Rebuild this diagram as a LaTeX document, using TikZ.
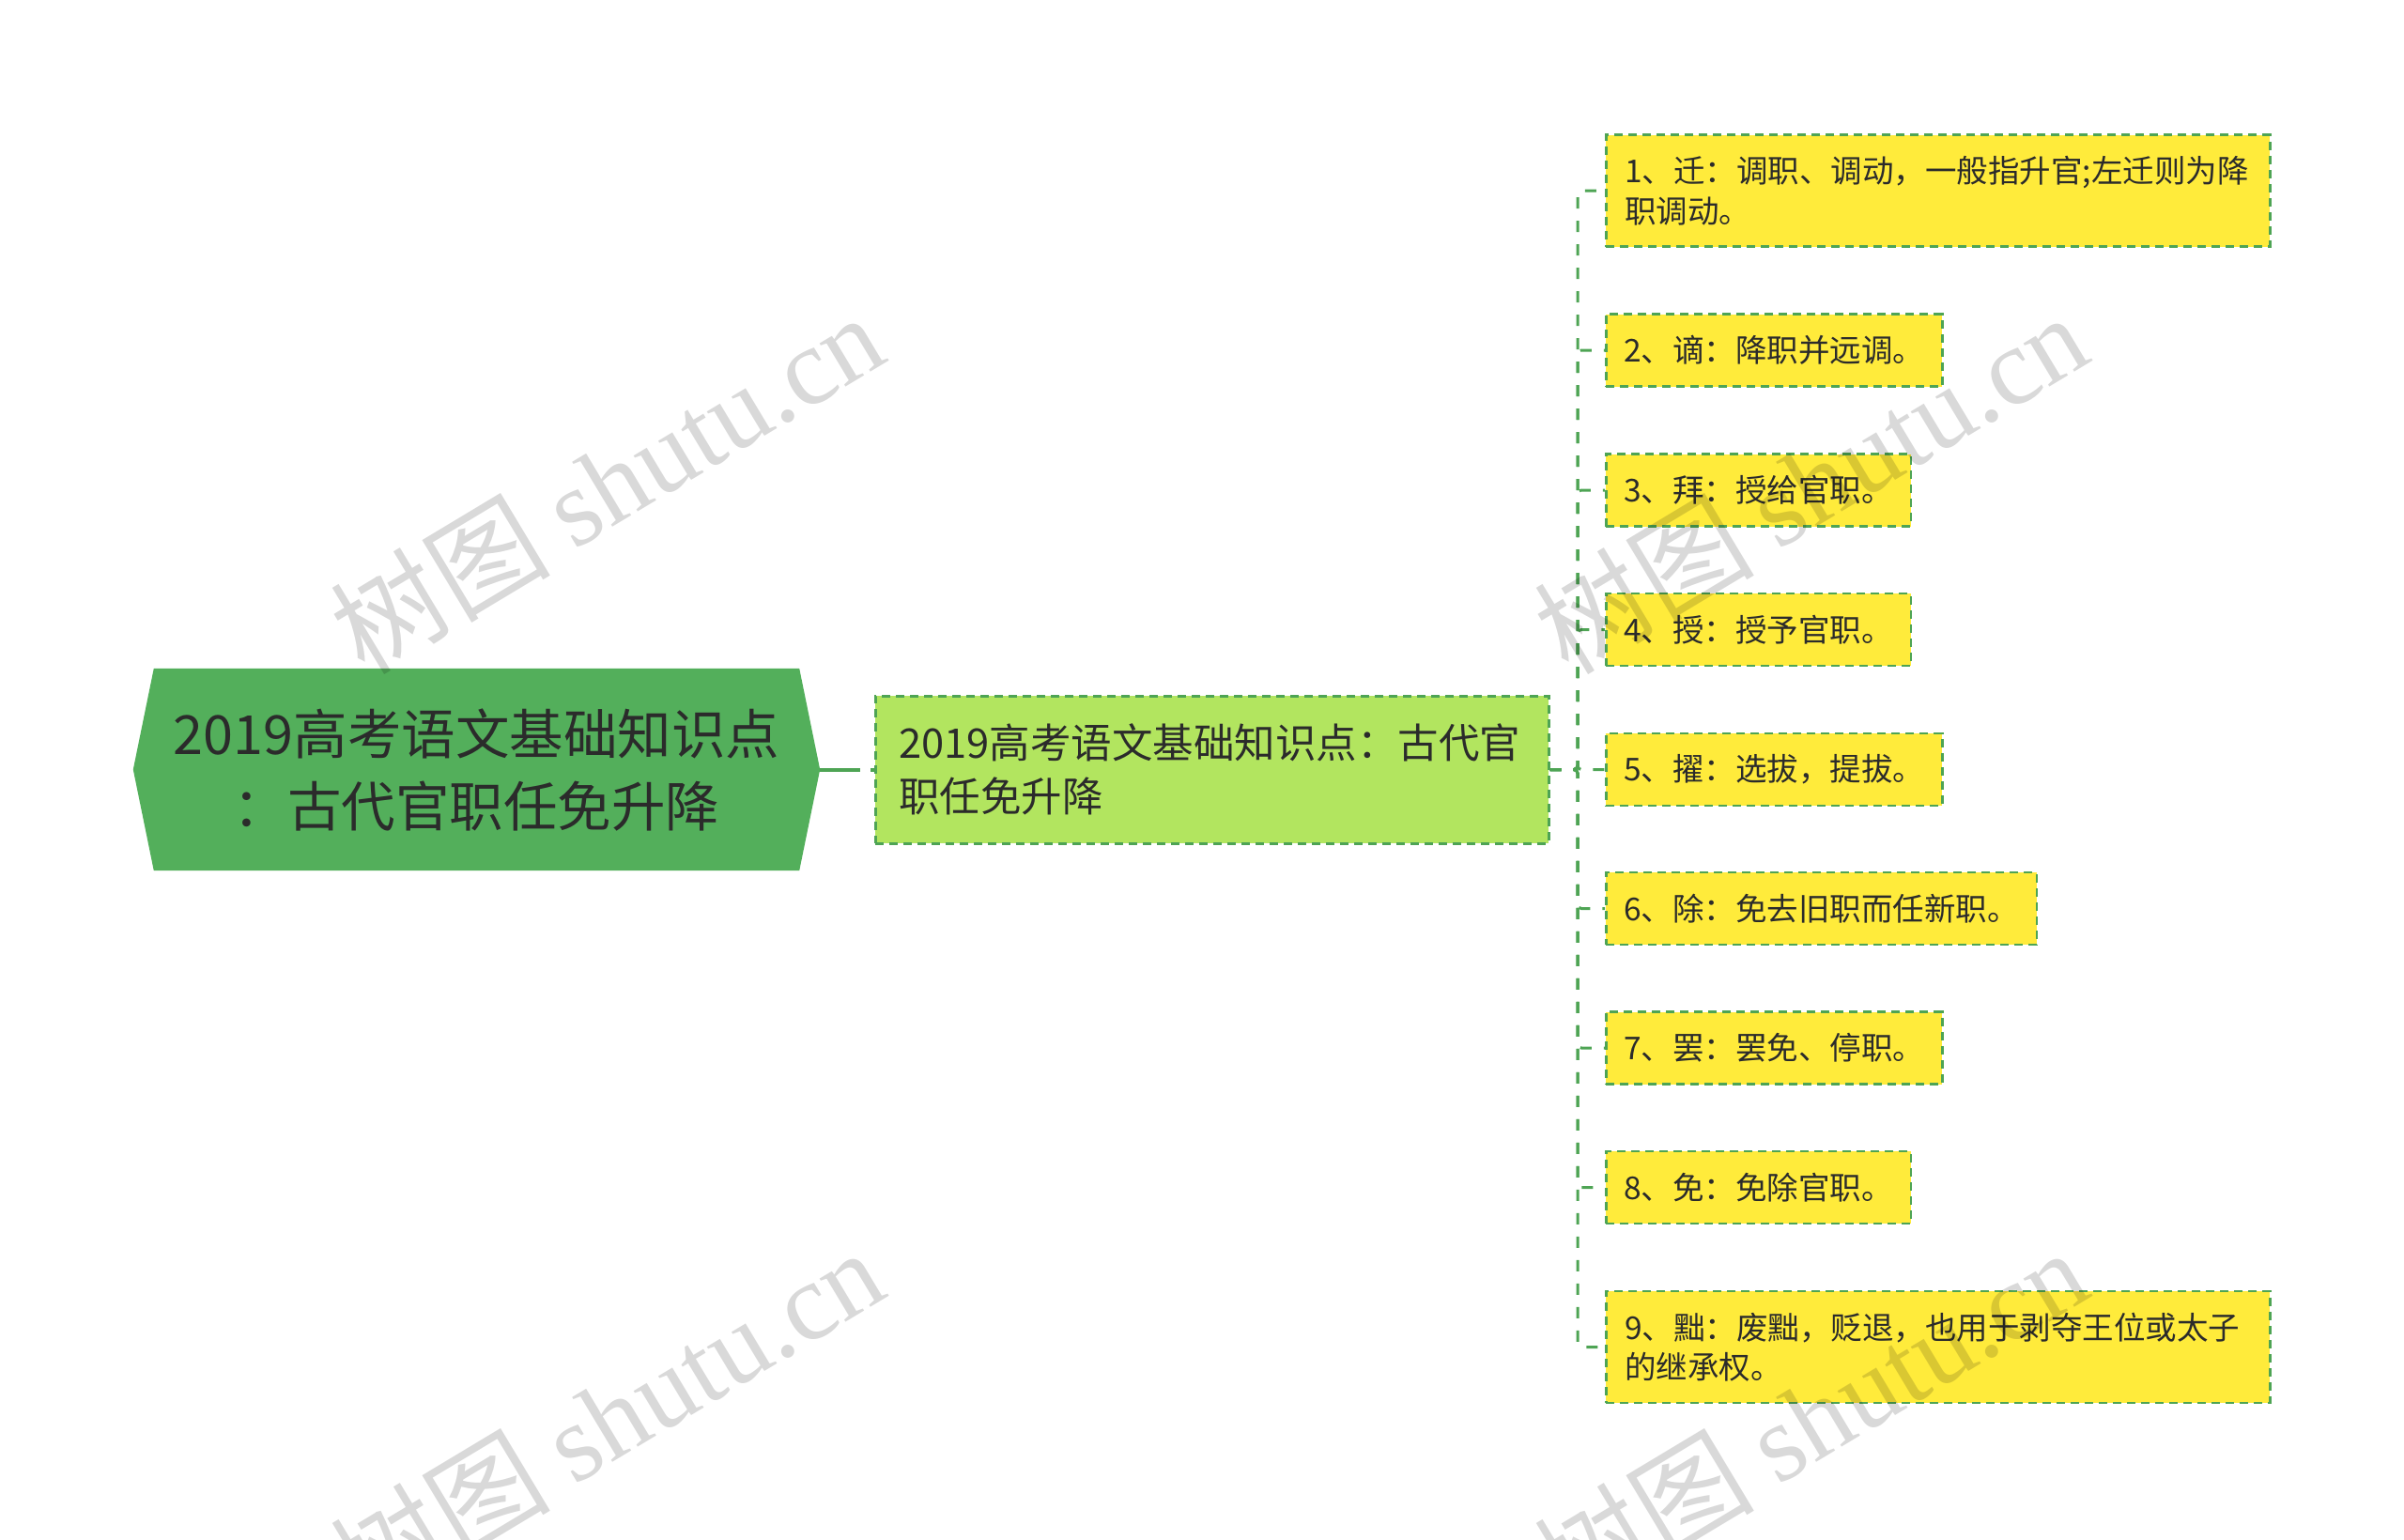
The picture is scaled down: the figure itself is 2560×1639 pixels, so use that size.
\documentclass[tikz,border=0pt]{standalone}
\usepackage{fontspec}
\setmainfont{Noto Sans CJK SC}
\newfontfamily\wmserif{Liberation Serif}
\newfontfamily\wmcjk{Noto Sans CJK SC}
\usetikzlibrary{backgrounds}
\definecolor{rootgreen}{HTML}{53AF5B}
\definecolor{midfill}{HTML}{B2E55F}
\definecolor{leaffill}{HTML}{FFEB3B}
\definecolor{linegreen}{HTML}{4EA454}
\definecolor{txt}{HTML}{2B2B2B}
\tikzset{
  rootbox/.style={font=\fontsize{57.5}{77}\selectfont, text=txt, align=center,
    minimum width=687pt, minimum height=215pt, inner sep=0pt},
  midbox/.style={draw=linegreen, fill=midfill, line width=3pt, dash pattern=on 9pt off 6pt,
    text=txt, text width=667pt, inner xsep=25pt, inner ysep=0pt, minimum height=157pt,
    align=left, font=\fontsize{43.5}{57}\selectfont},
  leafbox/.style={draw=linegreen, fill=leaffill, line width=2.5pt, dash pattern=on 9pt off 6pt,
    text=txt, inner xsep=19pt, inner ysep=0pt, minimum height=77pt, align=left, anchor=west,
    font=\fontsize{33.5}{42.5}\selectfont},
  leafwide/.style={leafbox, text width=667pt, inner xsep=20pt, minimum height=119pt},
  conn/.style={draw=linegreen, line width=3pt, dash pattern=on 12pt off 13pt, rounded corners=4pt},
  rootconn/.style={draw=linegreen, line width=4pt, dash pattern=on 43pt off 11pt on 20pt off 0pt},
  wm/.style={font=\fontsize{117}{117}\selectfont, text=black, text opacity=0.15, inner sep=0pt}
}
\begin{document}
\begin{tikzpicture}[x=1pt,y=-1pt]
\useasboundingbox (0,0) rectangle (2560,1639);

% root
\node[rootbox] (root) at (507.5,819.5) {2019高考语文基础知识点\\：古代官职任免升降};
\begin{pgfonlayer}{background}
\fill[rootgreen] ([xshift=-22pt]root.west) -- (root.north west) -- (root.north east)
  -- ([xshift=22pt]root.east) -- (root.south east) -- (root.south west) -- cycle;
\end{pgfonlayer}

% second level
\node[midbox] (mid) at (1290.5,819.5) {2019高考语文基础知识点：古代官\\职任免升降};

\draw[rootconn] ([xshift=22pt]root.east) -- (mid.west);

% leaves
\node[leafwide] (l1) at (1709,203) {1、迁：调职、调动，一般指升官;左迁则为降\\职调动。};
\node[leafbox] (l2) at (1709,373) {2、谪：降职并远调。};
\node[leafbox] (l3) at (1709,522) {3、拜：授给官职。};
\node[leafbox] (l4) at (1709,670.5) {4、授：授予官职。};
\node[leafbox] (l5) at (1709,819.5) {5、擢：选拔，提拔。};
\node[leafbox] (l6) at (1709,967.5) {6、除：免去旧职而任新职。};
\node[leafbox] (l7) at (1709,1116) {7、罢：罢免、停职。};
\node[leafbox] (l8) at (1709,1264.5) {8、免：免除官职。};
\node[leafwide] (l9) at (1709,1434.5) {9、黜：废黜，贬退，也用于剥夺王位或太子\\的继承权。};

\coordinate (trunk) at (1680,819.5);
\foreach \k in {1,...,9}{
  \draw[conn] (mid.east) -- (trunk) |- (l\k.west);
}

% watermarks
\node[wm, rotate=31] (wm1) at (646,514) {\wmcjk 树图 \wmserif shutu.cn};
\node[wm, rotate=31] (wm2) at (1928,514) {\wmcjk 树图 \wmserif shutu.cn};
\node[wm, rotate=31] (wm3) at (646,1510) {\wmcjk 树图 \wmserif shutu.cn};
\node[wm, rotate=31] (wm4) at (1928,1510) {\wmcjk 树图 \wmserif shutu.cn};
\end{tikzpicture}
\end{document}
